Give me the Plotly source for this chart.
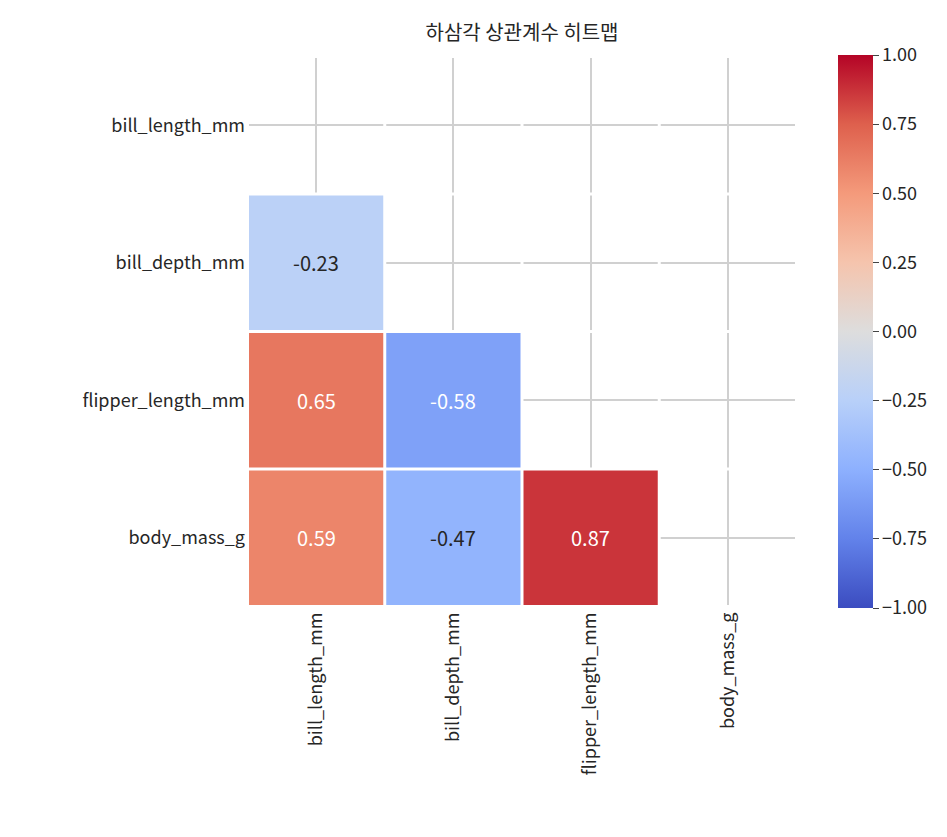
import plotly.graph_objects as go

labels = ["bill_length_mm", "bill_depth_mm", "flipper_length_mm", "body_mass_g"]
corr = [
    [None, None, None, None],
    [-0.23, None, None, None],
    [0.65, -0.58, None, None],
    [0.59, -0.47, 0.87, None],
]

coolwarm = [
    [0.0, "rgb(59,76,192)"], [0.125, "rgb(98,130,234)"], [0.25, "rgb(141,176,254)"],
    [0.375, "rgb(184,208,249)"], [0.5, "rgb(221,221,221)"], [0.625, "rgb(245,196,173)"],
    [0.75, "rgb(244,154,123)"], [0.875, "rgb(222,96,77)"], [1.0, "rgb(180,4,38)"],
]

font = "Noto Sans CJK KR, Noto Sans, sans-serif"
fig = go.Figure(go.Heatmap(
    z=corr, x=labels, y=labels, zmin=-1, zmax=1, colorscale=coolwarm,
    hoverongaps=False,
    colorbar=dict(x=(830 - 238) / 552, xanchor="left", thickness=35, len=1, y=0.5, yanchor="middle",
                  ypad=0, xpad=0,
                  tickvals=[-1, -0.75, -0.5, -0.25, 0, 0.25, 0.5, 0.75, 1],
                  tickformat=".2f", ticks="outside", ticklen=6, outlinewidth=0,
                  tickfont=dict(size=18, color="#262626")),
))

ann = []
for i, row in enumerate(corr):
    for j, v in enumerate(row):
        if v is None:
            continue
        col = "white" if abs(v) > 0.5 else "#262626"
        ann.append(dict(x=labels[j], y=labels[i], text=f"{v:.2f}", showarrow=False,
                        font=dict(size=20, color=col, family=font)))

shapes = []
for k in range(5):
    b = k - 0.5
    shapes.append(dict(type="line", xref="x", yref="paper", x0=b, x1=b, y0=0, y1=1,
                       line=dict(color="white", width=3), layer="above"))
    shapes.append(dict(type="line", xref="paper", yref="y", y0=b, y1=b, x0=0, x1=1,
                       line=dict(color="white", width=3), layer="above"))

fig.update_layout(
    width=947, height=837, margin=dict(l=238, r=157, t=47, b=237),
    paper_bgcolor="white", plot_bgcolor="white",
    font=dict(family=font, color="#262626", size=18),
    title=dict(text="하삼각 상관계수 히트맵", x=(238 + 790) / 2 / 947, xanchor="center",
               y=1 - 25 / 837, yanchor="middle", font=dict(size=20)),
    annotations=ann, shapes=shapes,
)
fig.update_xaxes(showgrid=True, gridcolor="#d0d0d0", gridwidth=1.5, tickangle=-90,
                 zeroline=False, showline=False, ticks="")
fig.update_yaxes(showgrid=True, gridcolor="#d0d0d0", gridwidth=1.5, autorange="reversed",
                 zeroline=False, showline=False, ticks="")
fig.write_html("out.html")
